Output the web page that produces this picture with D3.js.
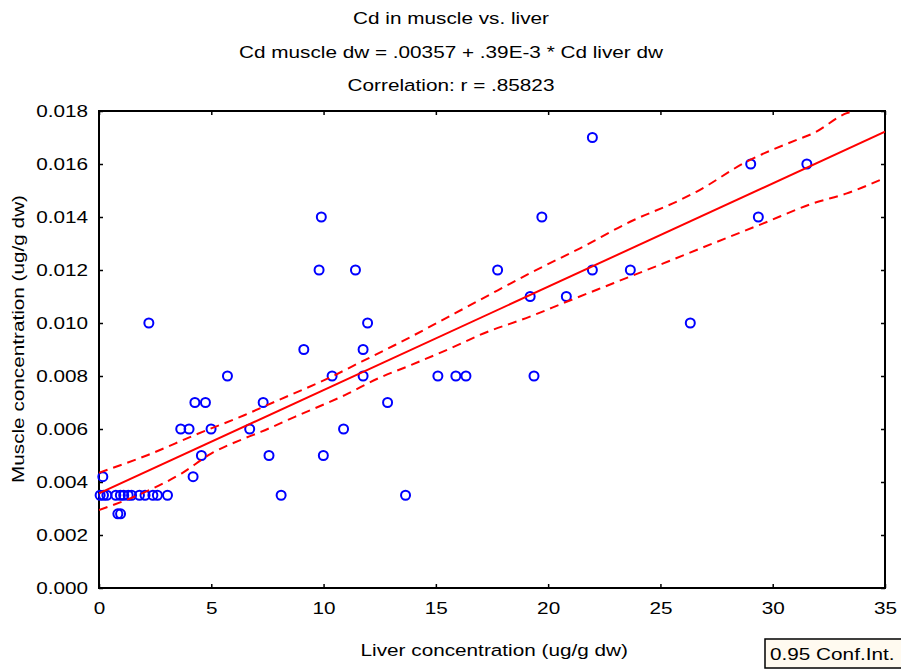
<!DOCTYPE html>
<html>
<head>
<meta charset="utf-8">
<script src="https://cdn.jsdelivr.net/npm/d3@7"></script>
<style>
  body { margin: 0; background: #fff; }
  text { font-family: "Liberation Sans", Arial, sans-serif; fill: #000; }
</style>
</head>
<body>
<svg id="chart" width="901" height="671"></svg>
<script>
// liver (x) and muscle (y) concentration, ug/g dw
const liver = [
  0.17, 0.05, 0.2, 0.35, 0.75, 0.95, 1.1, 1.3, 1.45, 1.8, 2.05, 2.4, 2.6, 3.05,
  0.84, 0.96, 2.22, 3.64, 4.01, 4.19, 4.27, 4.74, 4.56, 4.99, 5.72, 6.71,
  7.31, 7.57, 8.11, 9.12, 9.8, 9.9, 9.99, 10.38, 10.89, 11.42, 11.76, 11.76,
  11.96, 12.85, 13.65, 15.09, 15.89, 16.34, 17.75, 19.2, 19.37, 19.72, 20.81,
  21.97, 21.97, 23.66, 26.33, 29.02, 29.36, 31.52
];
const muscle = [
  0.0042, 0.0035, 0.0035, 0.0035, 0.0035, 0.0035, 0.0035, 0.0035, 0.0035, 0.0035, 0.0035, 0.0035, 0.0035, 0.0035,
  0.0028, 0.0028, 0.010, 0.006, 0.006, 0.0042, 0.007, 0.007, 0.005, 0.006, 0.008, 0.006,
  0.007, 0.005, 0.0035, 0.009, 0.012, 0.014, 0.005, 0.008, 0.006, 0.012, 0.009, 0.008,
  0.010, 0.007, 0.0035, 0.008, 0.008, 0.008, 0.012, 0.011, 0.008, 0.014, 0.011,
  0.017, 0.012, 0.012, 0.010, 0.016, 0.014, 0.016
];

// regression from the title: muscle = .00357 + .39E-3 * liver
const intercept = 0.00357;
const slope = 0.00039;
const fitX = [0, 35];

// 0.95 confidence band
const upperX = [0, 2.18, 4.26, 6.49, 7.83, 10.2, 11.69, 13.18, 16.96, 19.19, 21.42, 23.65, 25.87, 26.62, 28.84, 31.07, 31.81, 33.3, 33.6];
const upperY = [0.00435, 0.00502, 0.00577, 0.00653, 0.00703, 0.00791, 0.00854, 0.00917, 0.01087, 0.01188, 0.01282, 0.01382, 0.01464, 0.01496, 0.01609, 0.01691, 0.01716, 0.01792, 0.0180];
const lowerX = [0, 1.89, 3.67, 5.01, 6.49, 7.23, 8.72, 10.95, 12.43, 13.91, 16.14, 16.96, 19.19, 20.82, 22.9, 25.13, 27.36, 29.58, 31.81, 33.3, 34.79];
const lowerY = [0.00294, 0.00356, 0.00432, 0.00508, 0.00565, 0.0059, 0.00646, 0.00728, 0.00791, 0.00842, 0.00923, 0.00955, 0.01024, 0.0108, 0.0115, 0.01225, 0.01301, 0.01376, 0.01452, 0.01489, 0.0154];

const xTicks = [0, 5, 10, 15, 20, 25, 30, 35];
const yTicks = [0, 0.002, 0.004, 0.006, 0.008, 0.010, 0.012, 0.014, 0.016, 0.018];

const titleLines = ["Cd in muscle vs. liver", "Cd muscle dw = .00357 + .39E-3 * Cd liver dw", "Correlation: r = .85823"];
const xLabel = "Liver concentration (ug/g dw)";
const yLabel = "Muscle concentration (ug/g dw)";
const legendText = "0.95 Conf.Int.";

const SX = 1.22; // text is drawn a bit wider than Arial
const FS = 17;

let svg = d3.select("#chart"),
    margin = {top: 111, right: 16, bottom: 83, left: 99},
    width = +svg.attr("width") - margin.left - margin.right,
    height = +svg.attr("height") - margin.top - margin.bottom;

let x = d3.scaleLinear().domain([0, 35]).range([0, width]);
let y = d3.scaleLinear().domain([0, 0.018]).range([height, 0]);

function label(parent, px, py, s, anchor, rot) {
  let t = parent.append("g")
    .attr("transform", "translate(" + px + "," + py + ")" + (rot ? " rotate(" + rot + ")" : "") + " scale(" + SX + ",1)");
  t.append("text")
    .attr("text-anchor", anchor || "middle")
    .style("font-size", FS + "px")
    .text(s);
  return t;
}

// titles
titleLines.forEach(function(s, i) {
  label(svg, 451, 24 + i * 33.5, s);
});

let g = svg.append("g").attr("transform", "translate(" + margin.left + "," + margin.top + ")");

let defs = svg.append("defs");
defs.append("clipPath").attr("id", "clip")
  .append("rect").attr("width", width).attr("height", height);

// axes, ticks pointing inward
function styleAxis(sel) {
  sel.select(".domain").remove();
  sel.selectAll(".tick line").attr("stroke", "#000").attr("stroke-width", 1.5);
}

g.append("g")
  .attr("transform", "translate(0," + height + ")")
  .call(d3.axisBottom(x).tickValues(xTicks).tickSizeInner(-4).tickSizeOuter(0).tickPadding(14).tickFormat(d3.format("d")))
  .call(styleAxis)
  .call(function(a) {
    a.selectAll(".tick text")
      .style("font-size", FS + "px")
      .attr("transform", "scale(" + SX + ",1)")
      .attr("dy", "0.71em");
  });

g.append("g")
  .call(d3.axisLeft(y).tickValues(yTicks).tickSizeInner(-4).tickSizeOuter(0).tickPadding(11).tickFormat(d3.format(".3f")))
  .call(styleAxis)
  .call(function(a) {
    a.selectAll(".tick text")
      .style("font-size", FS + "px")
      .attr("x", -11 / SX)
      .attr("transform", "scale(" + SX + ",1)");
  });

g.append("g")
  .call(d3.axisTop(x).tickValues(xTicks).tickSizeInner(-4).tickSizeOuter(0).tickFormat(""))
  .call(styleAxis);

g.append("g")
  .attr("transform", "translate(" + width + ",0)")
  .call(d3.axisRight(y).tickValues(yTicks).tickSizeInner(-4).tickSizeOuter(0).tickFormat(""))
  .call(styleAxis);

g.selectAll(".tick text").attr("fill", "#000").style("font-family", '"Liberation Sans", Arial, sans-serif');

g.append("rect")
  .attr("width", width)
  .attr("height", height)
  .attr("fill", "none")
  .attr("stroke", "#000")
  .attr("stroke-width", 2);

// points
let pts = liver.map(function(d, i) { return {x: d, y: muscle[i]}; });

g.append("g").selectAll("circle")
  .data(pts)
  .enter().append("circle")
  .attr("cx", function(d) { return x(d.x); })
  .attr("cy", function(d) { return y(d.y); })
  .attr("r", 4.5)
  .attr("fill", "none")
  .attr("stroke", "#0000ff")
  .attr("stroke-width", 2);

// fit and band
let line = d3.line()
  .x(function(d) { return x(d[0]); })
  .y(function(d) { return y(d[1]); });

let fit = fitX.map(function(v) { return [v, intercept + slope * v]; });
let upper = upperX.map(function(v, i) { return [v, upperY[i]]; });
let lower = lowerX.map(function(v, i) { return [v, lowerY[i]]; });

let lines = g.append("g").attr("clip-path", "url(#clip)");

lines.append("path")
  .attr("d", line(fit))
  .attr("fill", "none")
  .attr("stroke", "#ff0000")
  .attr("stroke-width", 2);

[upper, lower].forEach(function(band) {
  lines.append("path")
    .attr("d", line.curve(d3.curveMonotoneX)(band))
    .attr("fill", "none")
    .attr("stroke", "#ff0000")
    .attr("stroke-width", 2)
    .attr("stroke-dasharray", "9,6");
});

// axis titles
label(svg, margin.left + x(17.6), 656, xLabel);
label(svg, 24, 339, yLabel, "middle", -90);

// legend box
let lg = svg.append("g").attr("transform", "translate(765,639)");
lg.append("rect")
  .attr("width", 140)
  .attr("height", 29)
  .attr("fill", "#fffaf0")
  .attr("stroke", "#000")
  .attr("stroke-width", 1.5);
label(lg, 5, 21, legendText, "start");
</script>
</body>
</html>
